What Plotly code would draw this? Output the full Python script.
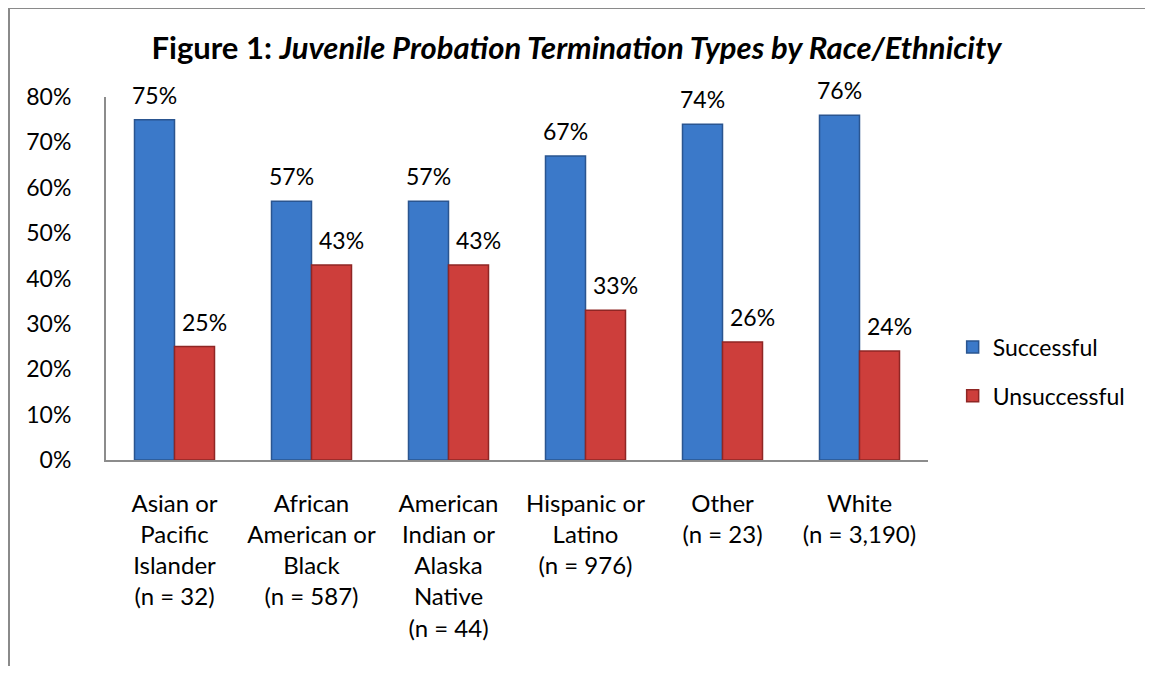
import plotly.graph_objects as go

CATEGORIES = [
    "Asian or<br>Pacific<br>Islander<br>(n = 32)",
    "African<br>American or<br>Black<br>(n = 587)",
    "American<br>Indian or<br>Alaska<br>Native<br>(n = 44)",
    "Hispanic or<br>Latino<br>(n = 976)",
    "Other<br>(n = 23)",
    "White<br>(n = 3,190)",
]
SUCCESSFUL = [75, 57, 57, 67, 74, 76]
UNSUCCESSFUL = [25, 43, 43, 33, 26, 24]
Y_TICKS = [0, 10, 20, 30, 40, 50, 60, 70, 80]

FONT = "Lato, 'Noto Sans', sans-serif"
BLUE = "#3b79c9"
BLUE_EDGE = "#2a5590"
RED = "#cd3e3b"
RED_EDGE = "#8f2624"
AXIS_GRAY = "#8c8c8c"
FRAME_GRAY = "#8a8a8a"
BAR_GAP = 0.416

fig = go.Figure()
fig.add_trace(
    go.Bar(
        x=CATEGORIES,
        y=SUCCESSFUL,
        name="Successful",
        marker={"color": BLUE, "line": {"color": BLUE_EDGE, "width": 1.5}},
        legendgroup="s",
    )
)
fig.add_trace(
    go.Bar(
        x=CATEGORIES,
        y=UNSUCCESSFUL,
        name="Unsuccessful",
        marker={"color": RED, "line": {"color": RED_EDGE, "width": 1.5}},
        legendgroup="u",
    )
)

# value labels above each bar (bar centres sit a quarter of the group width off the category);
# the red labels sit a little to the right of their bars in the original
half = (1 - BAR_GAP) / 4
for offset, nudge, values in ((-half, 0, SUCCESSFUL), (half, 10, UNSUCCESSFUL)):
    for i, v in enumerate(values):
        fig.add_annotation(
            x=i + offset,
            y=v,
            text=f"{v}%",
            showarrow=False,
            yanchor="bottom",
            yshift=9,
            xshift=nudge,
            font={"size": 23, "color": "#000000", "family": FONT},
        )

# outer chart frame: only the top and left edges fall inside the picture
fig.add_shape(type="line", xref="paper", yref="paper", x0=-0.118, x1=1.3, y0=1.245, y1=1.245,
              line={"color": FRAME_GRAY, "width": 2}, layer="above")
fig.add_shape(type="line", xref="paper", yref="paper", x0=-0.118, x1=-0.118, y0=-0.7, y1=1.245,
              line={"color": FRAME_GRAY, "width": 2}, layer="above")

fig.update_layout(
    width=1137,
    height=658,
    paper_bgcolor="#ffffff",
    plot_bgcolor="#ffffff",
    margin={"l": 98, "r": 217, "t": 89, "b": 206, "autoexpand": False},
    barmode="group",
    bargap=BAR_GAP,
    bargroupgap=0,
    font={"family": FONT, "size": 23, "color": "#000000"},
    title={
        "text": "<b>Figure 1: <i>Juvenile Probation Termination Types by Race/Ethnicity</i></b>",
        "x": 0.5,
        "xanchor": "center",
        "y": 1 - 40 / 658,
        "yanchor": "middle",
        "font": {"size": 31, "family": FONT, "color": "#000000"},
    },
    legend={
        "x": 1.030,
        "xanchor": "left",
        "y": 0.244,
        "yanchor": "middle",
        "font": {"size": 23},
        "traceorder": "grouped",
        "tracegroupgap": 16,
        "bgcolor": "rgba(0,0,0,0)",
    },
    showlegend=True,
)
fig.update_xaxes(
    showline=True,
    linecolor=AXIS_GRAY,
    linewidth=2,
    showgrid=False,
    ticks="",
    ticklabelstandoff=21,
    tickfont={"size": 24},
)
fig.update_yaxes(
    range=[0, 80],
    tickvals=Y_TICKS,
    ticktext=[f"{t}%" for t in Y_TICKS],
    showline=True,
    linecolor=AXIS_GRAY,
    linewidth=2,
    showgrid=False,
    zeroline=False,
    ticks="",
    ticklabelstandoff=28,
    tickfont={"size": 23},
)

fig.write_html("out.html")
